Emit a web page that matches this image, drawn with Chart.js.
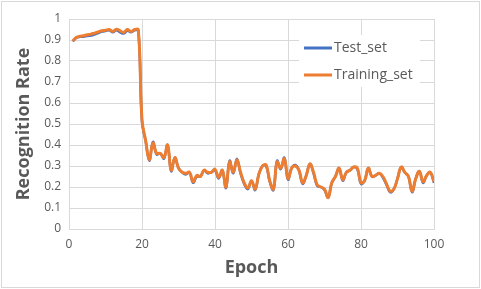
<!DOCTYPE html>
<html>
<head>
<meta charset="utf-8">
<script src="https://cdn.jsdelivr.net/npm/chart.js@4/dist/chart.umd.min.js"></script>
<style>
  html, body { margin: 0; padding: 0; background: #fff; }
  #wrap { width: 481px; height: 289px; }
</style>
</head>
<body>
<div id="wrap"><canvas id="lineChart" width="481" height="289"></canvas></div>
<script>
const epochs = [
  1, 2, 3, 4, 5, 6, 7, 8, 9, 10, 11, 12, 13, 14, 15, 16, 17, 18, 19, 20,
  21, 22, 23, 24, 25, 26, 27, 28, 29, 30, 31, 32, 33, 34, 35, 36, 37, 38, 39, 40,
  41, 42, 43, 44, 45, 46, 47, 48, 49, 50, 51, 52, 53, 54, 55, 56, 57, 58, 59, 60,
  61, 62, 63, 64, 65, 66, 67, 68, 69, 70, 71, 72, 73, 74, 75, 76, 77, 78, 79, 80,
  81, 82, 83, 84, 85, 86, 87, 88, 89, 90, 91, 92, 93, 94, 95, 96, 97, 98, 99, 100
];

const testSet = [
  0.893, 0.910, 0.915, 0.916, 0.919, 0.921, 0.926, 0.933, 0.940, 0.943,
  0.946, 0.937, 0.946, 0.937, 0.931, 0.944, 0.937, 0.946, 0.945, 0.51,
  0.42, 0.325, 0.415, 0.355, 0.36, 0.335, 0.40, 0.275, 0.34, 0.29,
  0.27, 0.26, 0.27, 0.22, 0.25, 0.25, 0.28, 0.265, 0.27, 0.28,
  0.24, 0.28, 0.195, 0.325, 0.265, 0.335, 0.265, 0.215, 0.19, 0.23,
  0.185, 0.26, 0.30, 0.30, 0.225, 0.185, 0.325, 0.285, 0.34, 0.235,
  0.29, 0.305, 0.28, 0.215, 0.255, 0.31, 0.265, 0.205, 0.20, 0.185,
  0.15, 0.22, 0.25, 0.29, 0.23, 0.27, 0.28, 0.295, 0.285, 0.215,
  0.23, 0.29, 0.25, 0.255, 0.265, 0.245, 0.21, 0.175, 0.19, 0.24,
  0.295, 0.27, 0.25, 0.175, 0.24, 0.275, 0.22, 0.255, 0.27, 0.22
];

const trainingSet = [
  0.895, 0.912, 0.918, 0.920, 0.925, 0.928, 0.933, 0.938, 0.944, 0.946,
  0.950, 0.941, 0.951, 0.944, 0.936, 0.950, 0.940, 0.950, 0.948, 0.52,
  0.42, 0.33, 0.41, 0.36, 0.36, 0.34, 0.40, 0.28, 0.34, 0.29,
  0.27, 0.265, 0.27, 0.225, 0.255, 0.25, 0.28, 0.27, 0.27, 0.285,
  0.245, 0.28, 0.20, 0.32, 0.27, 0.33, 0.27, 0.22, 0.195, 0.23,
  0.19, 0.26, 0.30, 0.305, 0.23, 0.19, 0.32, 0.29, 0.335, 0.24,
  0.29, 0.30, 0.28, 0.22, 0.255, 0.31, 0.27, 0.21, 0.20, 0.19,
  0.15, 0.22, 0.25, 0.29, 0.235, 0.27, 0.28, 0.295, 0.29, 0.22,
  0.23, 0.29, 0.25, 0.255, 0.265, 0.25, 0.215, 0.18, 0.19, 0.24,
  0.295, 0.27, 0.25, 0.18, 0.24, 0.275, 0.225, 0.255, 0.27, 0.225
];

const xTicks = [0, 20, 40, 60, 80, 100];
const yTicks = [0, 0.1, 0.2, 0.3, 0.4, 0.5, 0.6, 0.7, 0.8, 0.9, 1];

const textColor = "#595959";
const gridColor = "#d9d9d9";

// white background + thin frame like the Excel chart area
const frame = {
  id: "frame",
  beforeDraw(chart) {
    const c = chart.ctx;
    c.save();
    c.fillStyle = "#fff";
    c.fillRect(0, 0, chart.width, chart.height);
    c.strokeStyle = "#d9d9d9";
    c.lineWidth = 1;
    c.strokeRect(1.5, 1.5, chart.width - 3, chart.height - 3);
    c.restore();
  }
};

// legend sitting inside the plot, upper right
const insideLegend = {
  id: "insideLegend",
  afterDraw(chart) {
    const c = chart.ctx;
    const x = 299, y = 35, w = 121, h = 52;
    c.save();
    c.fillStyle = "#fff";
    c.fillRect(x, y, w, h);
    c.font = "14px 'Open Sans'";
    c.textBaseline = "middle";
    chart.data.datasets.forEach((ds, i) => {
      const ly = 48 + i * 27;
      c.strokeStyle = ds.borderColor;
      c.lineWidth = 3;
      c.beginPath();
      c.moveTo(304, ly);
      c.lineTo(332, ly);
      c.stroke();
      c.fillStyle = textColor;
      c.fillText(ds.label, 334, ly);
    });
    c.restore();
  }
};

const ctx = document.getElementById("lineChart");

new Chart(ctx, {
  type: "line",
  data: {
    datasets: [
      {
        label: "Test_set",
        data: epochs.map((e, i) => ({ x: e, y: testSet[i] })),
        borderColor: "#4472c4",
        borderWidth: 2.5,
        pointRadius: 0,
        tension: 0.4,
        order: 1,
      },
      {
        label: "Training_set",
        data: epochs.map((e, i) => ({ x: e, y: trainingSet[i] })),
        borderColor: "#ed7d31",
        borderWidth: 3,
        pointRadius: 0,
        tension: 0.4,
        order: 0,
      },
    ],
  },
  options: {
    responsive: false,
    animation: false,
    layout: { padding: { left: 0, right: 47, top: 19, bottom: 0 } },
    plugins: {
      legend: { display: false },
      tooltip: { enabled: false },
    },
    scales: {
      x: {
        type: "linear",
        min: 0,
        max: 100,
        afterBuildTicks(scale) { scale.ticks = xTicks.map(v => ({ value: v })); },
        afterFit(scale) { scale.height = 60; },
        grid: { color: gridColor, drawTicks: false },
        border: { color: gridColor },
        ticks: { color: textColor, padding: 8, font: { family: "Open Sans", size: 12 } },
        title: {
          display: true,
          text: "Epoch",
          color: textColor,
          padding: { top: 0, bottom: 10 },
          font: { family: "Open Sans", size: 18, weight: "bold" },
        },
      },
      y: {
        min: 0,
        max: 1,
        afterBuildTicks(scale) { scale.ticks = yTicks.map(v => ({ value: v })); },
        afterFit(scale) { scale.width = 69; },
        grid: { color: gridColor, drawTicks: false },
        border: { color: gridColor },
        ticks: {
          color: textColor,
          padding: 8,
          font: { family: "Open Sans", size: 12 },
          callback: (v) => String(v),
        },
        title: {
          display: true,
          text: "Recognition Rate",
          color: textColor,
          padding: { top: 13, bottom: 0 },
          font: { family: "Open Sans", size: 18, weight: "bold" },
        },
      },
    },
  },
  plugins: [frame, insideLegend],
});
</script>
</body>
</html>
